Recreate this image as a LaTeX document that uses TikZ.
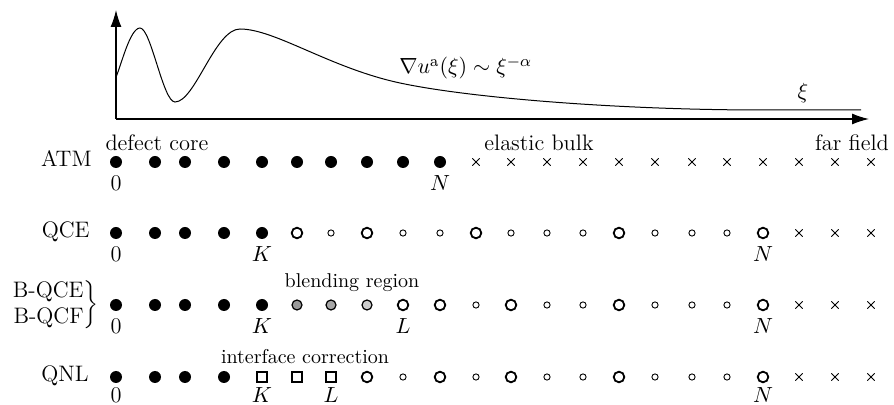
\documentclass[tikz,border=0pt]{standalone}
\usepackage{fontspec}
\usetikzlibrary{shapes.misc,arrows.meta}
\begin{document}
\begin{tikzpicture}[x=0.5pt,y=-0.5pt,
 lab/.style={font=\fontsize{11.2}{13}\selectfont, inner sep=0pt},
 smalllab/.style={font=\fontsize{10}{12}\selectfont, inner sep=0pt},
 atom/.style={circle,fill=black,inner sep=0pt,minimum size=6pt},
 bigrep/.style={circle,draw,line width=0.9pt,inner sep=0pt,minimum size=5.3pt},
 smallrep/.style={circle,draw,line width=0.45pt,inner sep=0pt,minimum size=3.1pt},
 ghost/.style={cross out,draw,line width=0.4pt,inner sep=0pt,minimum size=3.3pt},
 blend/.style={circle,draw,line width=0.6pt,inner sep=0pt,minimum size=5pt,fill=#1},
 interf/.style={rectangle,draw,line width=0.7pt,inner sep=0pt,minimum size=5pt},
 axis/.style={line width=0.6pt,-{Latex[length=8.5pt,width=5.5pt]}},
 curve/.style={line width=0.5pt}
]
\useasboundingbox (0,0) rectangle (894,405);
\def\posx{{116,155,185,224,262,297,331,367,403,440,476,511,547,583,619,655,692,727,763,799,835,871}}
\newcommand\placesite[4]{\pgfmathsetmacro\xx{\posx[#3-1]}\node[#1] (#2#3) at (\xx,#4) {};}

% axes and curve
\coordinate (O) at (116,119);
\coordinate (ytip) at (116,10);
\coordinate (xtip) at (869,119);
\draw[axis] (O) -- (ytip);
\draw[axis] (O) -- (xtip);
\coordinate (c0) at (116,77);
\coordinate (c1) at (140,28);
\coordinate (c2) at (175,102);
\coordinate (c3) at (240,29);
\coordinate (c4) at (400,83);
\coordinate (c5) at (763,110);
\coordinate (c6) at (861,110);
\draw[curve] (c0) .. controls (121,66) and (130,28) .. (c1)
  .. controls (151,28) and (163,102) .. (c2)
  .. controls (195,102) and (215,29) .. (c3)
  .. controls (275,29) and (330,68) .. (c4)
  .. controls (470,98) and (620,110) .. (c5) -- (c6);
\node[lab,anchor=base west] (law) at (399,74) {$\nabla u^{\mathrm{a}}(\xi)\sim\xi^{-\alpha}$};
\node[lab,anchor=base] (xi) at (803,99) {$\xi$};

% region labels
\node[lab] (core) at (157,143) {defect core};
\node[lab] (bulk) at (539,143) {elastic bulk};
\node[lab] (far) at (852,143) {far field};
\node[smalllab] (blendlab) at (352,283) {blending region};
\node[smalllab] (intlab) at (305,357) {interface correction};

% row labels
\node[lab,anchor=base east] (atmlab) at (92,167) {ATM};
\node[lab,anchor=base east] (qcelab) at (90,238) {QCE};
\node[lab,anchor=east] (blab) at (99,305) {$\left.\begin{array}{@{}r@{}}\mbox{B-QCE}\\\mbox{B-QCF}\end{array}\right\}$};
\node[lab,anchor=base east] (qnllab) at (89,382) {QNL};

% ATM row
\foreach \i in {1,...,10} {\placesite{atom}{atm}{\i}{162}}
\foreach \i in {11,...,22} {\placesite{ghost}{atm}{\i}{162}}
\node[lab,anchor=base] (atmzero) at (116,191) {0};
\node[lab,anchor=base] (atmN) at (440,191) {$N$};

% QCE row
\foreach \i in {1,...,5} {\placesite{atom}{qce}{\i}{233}}
\foreach \i in {6,8,11,15,19} {\placesite{bigrep}{qce}{\i}{233}}
\foreach \i in {7,9,10,12,13,14,16,17,18} {\placesite{smallrep}{qce}{\i}{233}}
\foreach \i in {20,21,22} {\placesite{ghost}{qce}{\i}{233}}
\node[lab,anchor=base] (qcezero) at (116,262) {0};
\node[lab,anchor=base] (qceK) at (262,262) {$K$};
\node[lab,anchor=base] (qceN) at (763,262) {$N$};

% B-QCE / B-QCF row
\foreach \i in {1,...,5} {\placesite{atom}{bq}{\i}{305}}
\placesite{blend=black!40}{bq}{6}{305}
\placesite{blend=black!35}{bq}{7}{305}
\placesite{blend=black!20}{bq}{8}{305}
\foreach \i in {9,10,12,15,19} {\placesite{bigrep}{bq}{\i}{305}}
\foreach \i in {11,13,14,16,17,18} {\placesite{smallrep}{bq}{\i}{305}}
\foreach \i in {20,21,22} {\placesite{ghost}{bq}{\i}{305}}
\node[lab,anchor=base] (bqzero) at (116,334) {0};
\node[lab,anchor=base] (bqK) at (262,334) {$K$};
\node[lab,anchor=base] (bqL) at (403,334) {$L$};
\node[lab,anchor=base] (bqN) at (763,334) {$N$};

% QNL row
\foreach \i in {1,...,4} {\placesite{atom}{qnl}{\i}{377}}
\foreach \i in {5,6,7} {\placesite{interf}{qnl}{\i}{377}}
\foreach \i in {8,10,12,15,19} {\placesite{bigrep}{qnl}{\i}{377}}
\foreach \i in {9,11,13,14,16,17,18} {\placesite{smallrep}{qnl}{\i}{377}}
\foreach \i in {20,21,22} {\placesite{ghost}{qnl}{\i}{377}}
\node[lab,anchor=base] (qnlzero) at (116,403) {0};
\node[lab,anchor=base] (qnlK) at (262,403) {$K$};
\node[lab,anchor=base] (qnlL) at (331,403) {$L$};
\node[lab,anchor=base] (qnlN) at (763,403) {$N$};
\end{tikzpicture}
\end{document}
